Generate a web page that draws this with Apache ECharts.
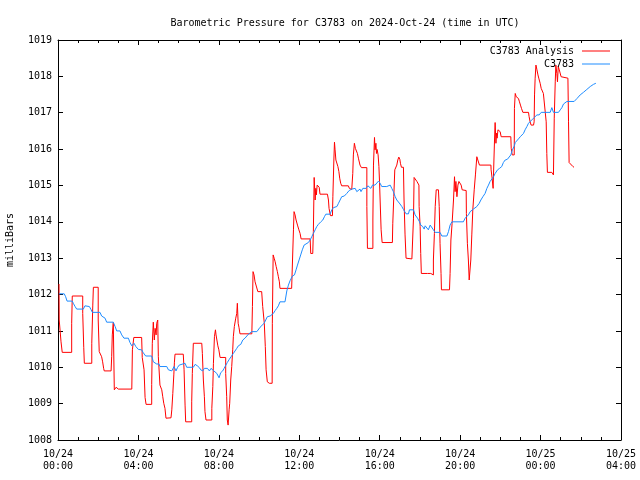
<!DOCTYPE html>
<html>
<head>
<meta charset="utf-8">
<script src="https://cdn.jsdelivr.net/npm/echarts@6/dist/echarts.min.js"></script>
<style>html,body{margin:0;padding:0;background:#fff}#c{width:640px;height:480px}</style>
</head>
<body>
<div id="c"></div>
<script>
// Hours since 2024-10-24 00:00 UTC
const analysisHours = [
0.05,0.06,0.15,0.21,0.68,0.68,0.71,1.23,1.23,1.28,
1.31,1.68,1.68,1.73,1.76,2.00,2.00,2.05,2.14,2.17,
2.22,2.27,2.30,2.64,2.67,2.70,2.75,2.80,2.89,3.00,
3.67,3.70,3.77,4.16,4.19,4.28,4.33,4.38,4.66,4.66,
4.69,4.74,4.79,4.83,4.88,4.91,4.96,4.99,5.07,5.16,
5.21,5.26,5.32,5.37,5.62,5.66,5.71,5.76,5.79,5.82,
6.23,6.27,6.32,6.35,6.65,6.65,6.68,6.73,7.15,7.18,
7.23,7.28,7.31,7.36,7.65,7.65,7.70,7.73,7.78,7.83,
7.86,7.90,7.95,8.00,8.06,8.34,8.34,8.39,8.42,8.46,
8.49,8.51,8.54,8.59,8.64,8.69,8.72,8.77,8.84,8.89,
8.92,8.96,9.00,9.05,9.64,9.67,9.70,9.75,9.80,9.89,
9.94,10.13,10.18,10.26,10.31,10.35,10.41,10.51,10.65,10.66,
10.70,10.75,10.80,10.85,10.91,10.96,11.01,11.04,11.62,11.71,
11.74,11.79,11.84,11.91,11.98,12.04,12.09,12.54,12.57,12.67,
12.70,12.74,12.79,12.82,12.85,12.89,12.94,12.99,13.03,13.40,
13.45,13.48,13.53,13.55,13.65,13.67,13.72,13.75,13.78,13.82,
13.87,13.92,13.97,14.01,14.06,14.11,14.44,14.49,14.61,14.66,
14.69,14.74,14.79,14.84,14.89,14.94,14.99,15.02,15.09,15.36,
15.36,15.39,15.66,15.66,15.69,15.74,15.77,15.81,15.84,15.87,
15.92,15.96,15.99,16.02,16.07,16.12,16.63,16.65,16.70,16.75,
16.80,16.85,16.90,16.95,17.00,17.03,17.08,17.18,17.21,17.26,
17.31,17.60,17.68,17.68,17.71,17.76,17.85,17.95,17.96,18.01,
18.04,18.07,18.37,18.42,18.54,18.57,18.67,18.67,18.72,18.76,
18.81,18.92,18.96,19.00,19.05,19.07,19.47,19.50,19.54,19.60,
19.67,19.72,19.75,19.79,19.84,19.89,19.94,20.00,20.05,20.10,
20.30,20.31,20.36,20.41,20.45,20.51,20.53,20.58,20.63,20.70,
20.76,20.83,20.88,20.91,20.96,21.53,21.54,21.59,21.64,21.68,
21.71,21.74,21.78,21.81,21.84,21.88,21.94,21.99,22.04,22.52,
22.54,22.59,22.69,22.70,22.74,22.79,22.85,22.90,22.95,23.00,
23.05,23.12,23.40,23.43,23.48,23.53,23.65,23.68,23.70,23.73,
23.77,23.82,23.87,23.92,23.98,24.03,24.09,24.14,24.23,24.28,
24.31,24.34,24.56,24.64,24.68,24.73,24.76,24.81,24.84,24.88,
24.93,24.98,25.02,25.07,25.36,25.39,25.42,25.51,25.61,25.66
];
const analysisMbar = [
1012.29,1011.30,1010.70,1010.41,1010.41,1011.21,1011.96,1011.96,1011.48,1010.55,
1010.11,1010.11,1010.66,1011.71,1012.20,1012.20,1011.30,1010.43,1010.38,1010.29,
1010.15,1009.97,1009.90,1009.90,1010.29,1010.89,1011.23,1009.38,1009.45,1009.40,
1009.40,1010.48,1010.82,1010.82,1010.27,1009.93,1009.17,1008.98,1008.98,1009.53,
1010.66,1011.24,1010.75,1011.07,1010.89,1011.21,1011.30,1010.29,1009.51,1009.38,
1009.19,1009.01,1008.87,1008.60,1008.61,1008.83,1009.28,1009.79,1010.14,1010.36,
1010.36,1009.93,1008.96,1008.50,1008.50,1009.05,1009.83,1010.66,1010.66,1010.38,
1009.65,1009.19,1008.78,1008.55,1008.55,1008.87,1009.47,1010.11,1010.84,1011.03,
1010.89,1010.84,1010.59,1010.48,1010.27,1010.27,1009.83,1009.19,1008.55,1008.41,
1008.41,1008.83,1009.01,1009.65,1010.02,1010.48,1010.84,1011.12,1011.35,1011.48,
1011.76,1011.21,1011.10,1010.92,1010.92,1011.67,1012.63,1012.54,1012.35,1012.31,
1012.08,1012.08,1011.67,1011.21,1010.57,1009.93,1009.60,1009.56,1009.56,1011.21,
1013.09,1013.00,1012.90,1012.77,1012.63,1012.49,1012.35,1012.17,1012.17,1013.78,
1014.28,1014.19,1014.05,1013.91,1013.78,1013.68,1013.53,1013.53,1013.13,1013.13,
1013.73,1015.22,1014.60,1014.92,1014.74,1015.01,1014.99,1014.95,1014.76,1014.76,
1014.60,1014.37,1014.37,1014.17,1014.17,1014.69,1015.70,1016.19,1015.98,1015.70,
1015.66,1015.52,1015.38,1015.20,1015.06,1014.99,1014.99,1014.92,1014.89,1015.33,
1015.84,1016.16,1016.02,1015.98,1015.88,1015.75,1015.70,1015.56,1015.49,1015.49,
1014.42,1013.27,1013.27,1014.05,1015.56,1016.32,1015.98,1016.16,1015.88,1015.99,
1015.84,1015.52,1015.11,1014.60,1013.78,1013.43,1013.43,1013.96,1014.69,1015.43,
1015.43,1015.56,1015.70,1015.78,1015.72,1015.61,1015.50,1015.50,1014.60,1013.64,
1013.00,1012.98,1012.93,1014.10,1015.22,1015.17,1015.11,1015.01,1014.42,1013.87,
1013.13,1012.58,1012.58,1012.61,1012.58,1012.54,1012.54,1012.95,1013.68,1014.42,
1014.88,1014.88,1014.42,1013.41,1012.58,1012.13,1012.13,1012.58,1013.50,1013.96,
1014.60,1015.24,1014.83,1015.11,1014.69,1015.01,1015.11,1015.06,1015.01,1014.88,
1014.86,1014.23,1013.41,1012.95,1012.40,1012.40,1012.95,1013.64,1014.33,1014.88,
1015.29,1015.79,1015.70,1015.66,1015.56,1015.56,1015.43,1015.20,1014.92,1015.70,
1016.25,1016.73,1016.16,1016.44,1016.30,1016.53,1016.57,1016.48,1016.34,1016.34,
1016.02,1015.84,1015.84,1017.12,1017.53,1017.44,1017.44,1017.39,1017.30,1017.21,
1017.12,1017.01,1017.01,1016.89,1016.75,1016.66,1016.66,1016.75,1017.49,1017.95,
1018.31,1018.18,1018.04,1017.93,1017.81,1017.67,1017.63,1017.53,1017.51,1016.75,
1015.88,1015.36,1015.36,1015.29,1016.85,1017.85,1018.31,1018.08,1017.85,1018.27,
1018.18,1018.13,1017.99,1017.95,1017.95,1016.75,1015.63,1015.61,1015.52,1015.50
];
const stationHours = [
0.05,0.31,0.38,0.45,0.71,0.76,0.85,0.93,1.26,1.34,
1.43,1.56,1.64,1.71,2.09,2.17,2.34,2.42,2.75,2.84,
2.92,3.08,3.17,3.28,3.50,3.58,3.67,3.78,3.87,4.00,
4.16,4.24,4.36,4.66,4.74,4.83,4.91,5.02,5.07,5.41,
5.49,5.54,5.66,5.71,5.77,5.87,5.94,6.03,6.10,6.32,
6.40,6.73,6.82,6.93,7.03,7.10,7.20,7.28,7.35,7.43,
7.53,7.61,7.66,7.73,7.81,7.90,7.98,8.01,8.09,8.19,
8.26,8.34,8.42,8.52,8.61,8.72,8.81,8.89,8.97,9.09,
9.19,9.30,9.39,9.47,9.55,9.64,9.89,9.97,10.05,10.13,
10.25,10.33,10.41,10.55,10.63,10.71,10.80,10.88,10.96,11.04,
11.29,11.38,11.46,11.54,11.66,11.76,11.84,11.91,11.99,12.07,
12.15,12.24,12.32,12.45,12.54,12.62,12.70,12.79,12.87,12.95,
13.07,13.17,13.25,13.32,13.53,13.62,13.70,13.87,13.95,14.03,
14.11,14.24,14.36,14.48,14.61,14.78,14.86,14.94,15.02,15.07,
15.16,15.24,15.32,15.41,15.47,15.56,15.64,15.77,15.86,15.94,
16.02,16.10,16.18,16.35,16.52,16.60,16.68,16.77,16.85,16.93,
17.01,17.10,17.18,17.31,17.43,17.48,17.68,17.76,17.88,17.98,
18.04,18.14,18.21,18.26,18.31,18.34,18.42,18.51,18.59,18.67,
18.76,19.00,19.09,19.34,19.42,19.50,19.59,20.16,20.25,20.30,
20.33,20.41,20.50,20.58,20.66,20.75,20.83,20.95,21.03,21.13,
21.24,21.33,21.41,21.49,21.58,21.66,21.74,21.86,21.96,22.07,
22.15,22.24,22.35,22.44,22.52,22.60,22.69,22.74,22.90,22.99,
23.07,23.15,23.23,23.32,23.40,23.48,23.65,23.82,23.93,24.03,
24.48,24.56,24.64,24.89,24.98,25.06,25.14,25.22,25.31,25.67,
25.81,25.97,26.13,26.30,26.47,26.63,26.75
];
const stationMbar = [
1012.02,1012.02,1011.94,1011.82,1011.82,1011.76,1011.67,1011.60,1011.60,1011.69,
1011.71,1011.67,1011.59,1011.51,1011.51,1011.41,1011.35,1011.24,1011.24,1011.12,
1011.00,1011.00,1010.89,1010.80,1010.80,1010.68,1010.59,1010.66,1010.57,1010.49,
1010.48,1010.40,1010.31,1010.31,1010.15,1010.20,1010.09,1010.09,1010.02,1010.02,
1009.93,1009.90,1009.90,1009.94,1010.02,1009.90,1009.99,1010.06,1010.11,1010.11,
1010.00,1010.00,1010.08,1010.04,1009.99,1009.93,1009.90,1009.97,1010.02,1009.97,
1009.90,1009.97,1010.02,1009.91,1009.88,1009.83,1009.79,1009.71,1009.85,1009.90,
1009.97,1010.02,1010.13,1010.22,1010.29,1010.38,1010.43,1010.52,1010.59,1010.63,
1010.75,1010.80,1010.84,1010.91,1010.95,1010.98,1010.98,1011.03,1011.10,1011.14,
1011.21,1011.30,1011.39,1011.41,1011.36,1011.48,1011.56,1011.62,1011.69,1011.80,
1011.80,1012.10,1012.26,1012.38,1012.51,1012.54,1012.68,1012.81,1012.95,1013.09,
1013.23,1013.36,1013.41,1013.43,1013.50,1013.59,1013.68,1013.78,1013.87,1013.93,
1014.00,1014.05,1014.14,1014.21,1014.21,1014.33,1014.39,1014.42,1014.51,1014.60,
1014.69,1014.71,1014.78,1014.86,1014.90,1014.92,1014.83,1014.83,1014.90,1014.83,
1014.92,1014.97,1014.92,1014.99,1014.99,1014.92,1015.01,1015.01,1015.06,1015.12,
1015.06,1014.97,1014.92,1014.97,1015.01,1014.92,1014.83,1014.69,1014.60,1014.56,
1014.49,1014.42,1014.34,1014.22,1014.22,1014.33,1014.33,1014.19,1014.10,1014.00,
1013.91,1013.87,1013.80,1013.89,1013.85,1013.91,1013.78,1013.91,1013.89,1013.78,
1013.71,1013.71,1013.61,1013.61,1013.73,1013.91,1014.00,1014.00,1014.10,1014.05,
1014.14,1014.19,1014.28,1014.33,1014.35,1014.37,1014.42,1014.51,1014.60,1014.69,
1014.78,1014.92,1015.01,1015.11,1015.15,1015.24,1015.33,1015.43,1015.47,1015.52,
1015.63,1015.70,1015.72,1015.72,1015.84,1015.98,1016.08,1016.18,1016.28,1016.34,
1016.39,1016.43,1016.53,1016.62,1016.71,1016.75,1016.85,1016.94,1016.94,1017.01,
1017.01,1017.14,1017.01,1017.01,1017.08,1017.14,1017.24,1017.26,1017.31,1017.31,
1017.39,1017.49,1017.56,1017.64,1017.72,1017.78,1017.81
];
const xTickLabels = ['10/24\n00:00','10/24\n04:00','10/24\n08:00','10/24\n12:00','10/24\n16:00','10/24\n20:00','10/25\n00:00','10/25\n04:00'];
const seriesNames = ['C3783 Analysis', 'C3783'];
const titleText = 'Barometric Pressure for C3783 on 2024-Oct-24 (time in UTC)';
const yAxisName = 'milliBars';

function zip(a, b) { const n = Math.min(a.length, b.length); const out = []; for (let i = 0; i < n; i++) out.push([a[i], b[i]]); return out; }

const FONT = 'DejaVu Sans Mono';
const RED = '#ff0000', BLUE = '#1e8cff';
const chart = echarts.init(document.getElementById('c'), null, {renderer: 'canvas'});
const baseX = {
  type: 'value', min: 0, max: 28, interval: 4,
  axisLine: {show: true, onZero: false, lineStyle: {color: '#000', width: 1}},
  axisTick: {show: true, inside: true, length: 5, lineStyle: {color: '#000'}},
  minorTick: {show: true, splitNumber: 4, length: 3, lineStyle: {color: '#000'}},
  splitLine: {show: false}
};
const baseY = {
  type: 'value', min: 1008, max: 1019, interval: 1,
  axisLine: {show: true, onZero: false, lineStyle: {color: '#000', width: 1}},
  axisTick: {show: true, inside: true, length: 5, lineStyle: {color: '#000'}},
  splitLine: {show: false}
};
const legendText = {fontFamily: FONT, fontSize: 10, color: '#000', padding: [0, 3, 0, 0]};
chart.setOption({
  animation: false,
  backgroundColor: '#fff',
  title: {text: titleText, left: 340, top: 13, textAlign: 'center',
    textStyle: {fontFamily: FONT, fontSize: 10, fontWeight: 'normal', color: '#000'}},
  grid: {left: 58, right: 19, top: 40, bottom: 40, containLabel: false, outerBoundsMode: 'none'},
  legend: [
    {data: [{name: seriesNames[0], icon: 'rect'}], right: 25, top: 41, align: 'right', itemWidth: 28, itemHeight: 1, itemGap: 0,
      textStyle: legendText},
    {data: [{name: seriesNames[1], icon: 'rect'}], right: 25, top: 54, align: 'right', itemWidth: 28, itemHeight: 1, itemGap: 0,
      textStyle: legendText}
  ],
  xAxis: [
    Object.assign({}, baseX, {position: 'bottom',
      axisLabel: {show: true, margin: 8, fontFamily: FONT, fontSize: 10, lineHeight: 12, color: '#000',
        formatter: v => xTickLabels[Math.round(v / 4)] || ''}}),
    Object.assign({}, baseX, {position: 'top', axisLabel: {show: false}})
  ],
  yAxis: [
    Object.assign({}, baseY, {position: 'left', name: yAxisName, nameLocation: 'middle', nameRotate: 90, nameGap: 43,
      nameTextStyle: {fontFamily: FONT, fontSize: 10, color: '#000'},
      axisLabel: {show: true, margin: 6, fontFamily: FONT, fontSize: 10, color: '#000', formatter: v => String(v)}}),
    Object.assign({}, baseY, {position: 'right', axisLabel: {show: false}})
  ],
  series: [
    {name: seriesNames[0], type: 'line', xAxisIndex: 0, yAxisIndex: 0, data: zip(analysisHours, analysisMbar),
      symbol: 'none', showSymbol: false, lineStyle: {color: RED, width: 1}, itemStyle: {color: RED}},
    {name: seriesNames[1], type: 'line', xAxisIndex: 0, yAxisIndex: 0, data: zip(stationHours, stationMbar),
      symbol: 'none', showSymbol: false, lineStyle: {color: BLUE, width: 1}, itemStyle: {color: BLUE}}
  ]
});
</script>
</body>
</html>
